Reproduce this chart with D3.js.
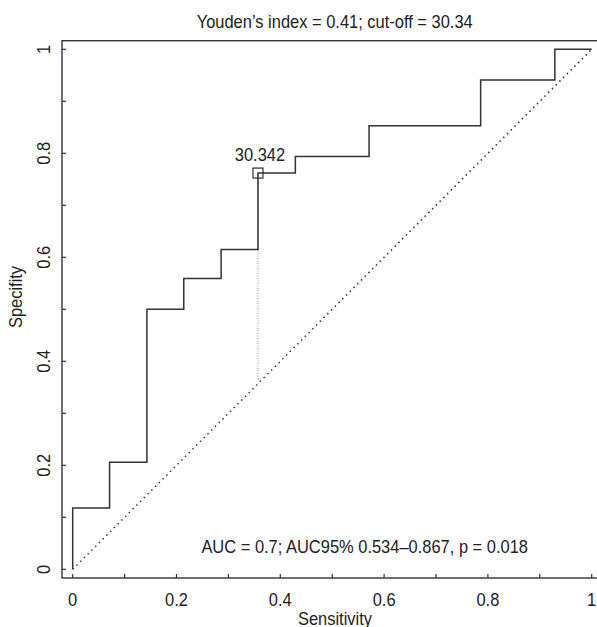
<!DOCTYPE html>
<html>
<head>
<meta charset="utf-8">
<script src="https://cdn.jsdelivr.net/npm/d3@7"></script>
<style>
  body { margin: 0; background: #fff; }
  svg text { font-family: "Liberation Sans", Arial, sans-serif; fill: #222; }
</style>
</head>
<body>
<div id="chart"></div>
<script>
// ROC points (stepped)
const sensitivity = [0, 0, 0.071, 0.143, 0.214, 0.286, 0.357, 0.429, 0.571, 0.786, 0.929, 1];
const specificity = [0, 0.118, 0.206, 0.5, 0.559, 0.615, 0.762, 0.794, 0.853, 0.941, 1, 1];
const cutoff = { sens: 0.357, spec: 0.762, label: "30.342" };
const xTicks = [0, 0.1, 0.2, 0.3, 0.4, 0.5, 0.6, 0.7, 0.8, 0.9, 1];
const yTicks = [0, 0.1, 0.2, 0.3, 0.4, 0.5, 0.6, 0.7, 0.8, 0.9, 1];
const labelTicks = [0, 0.2, 0.4, 0.6, 0.8, 1];
const title = "Youden\u2019s index = 0.41; cut-off = 30.34";
const aucText = "AUC = 0.7; AUC95% 0.534\u20130.867, p = 0.018";

const width = 597;
const height = 627;
const fontSize = 19;
const squeeze = 0.866; // condensed look of the original font
const ink = "#333";

const x = d3.scaleLinear().domain([0, 1]).range([72.7, 591.7]);
const y = d3.scaleLinear().domain([0, 1]).range([569.3, 49.3]);

// frame is a bit wider than the data range
const frame = { x0: x(-0.0206), x1: x(1.04), y0: y(1.0165), y1: y(-0.0167) };

const fmt = (d) => (d === 0 || d === 1 ? String(d) : d3.format(".1f")(d));

const svg = d3
  .select("#chart")
  .append("svg")
  .attr("width", width)
  .attr("height", height);

svg
  .append("rect")
  .attr("x", frame.x0)
  .attr("y", frame.y0)
  .attr("width", frame.x1 - frame.x0)
  .attr("height", frame.y1 - frame.y0)
  .attr("fill", "none")
  .attr("stroke", ink)
  .attr("stroke-width", 1.4);

// ticks (inward)
svg
  .append("g")
  .selectAll("line")
  .data(xTicks)
  .join("line")
  .attr("x1", (d) => x(d))
  .attr("x2", (d) => x(d))
  .attr("y1", frame.y1)
  .attr("y2", frame.y1 - 4)
  .attr("stroke", ink)
  .attr("stroke-width", 1.2);

svg
  .append("g")
  .selectAll("line")
  .data(yTicks)
  .join("line")
  .attr("y1", (d) => y(d))
  .attr("y2", (d) => y(d))
  .attr("x1", frame.x0)
  .attr("x2", frame.x0 + 4)
  .attr("stroke", ink)
  .attr("stroke-width", 1.2);

svg
  .append("g")
  .selectAll("text")
  .data(labelTicks)
  .join("text")
  .attr("x", (d) => x(d))
  .attr("y", 605.5)
  .attr("text-anchor", "middle")
  .attr("font-size", fontSize)
  .text(fmt);

svg
  .append("g")
  .selectAll("text")
  .data(labelTicks)
  .join("text")
  .attr("text-anchor", "middle")
  .attr("font-size", fontSize)
  .attr("transform", (d) => `translate(50,${y(d)})rotate(-90)`)
  .text(fmt);

// axis titles
svg
  .append("text")
  .attr("x", 335)
  .attr("y", 624.5)
  .attr("text-anchor", "middle")
  .attr("font-size", fontSize)
  .text("Sensitivity");

svg
  .append("text")
  .attr("text-anchor", "middle")
  .attr("font-size", fontSize)
  .attr("transform", "translate(21.5,297)rotate(-90)")
  .text("Specifity");

svg
  .append("text")
  .attr("x", 334.7)
  .attr("y", 27.5)
  .attr("text-anchor", "middle")
  .attr("font-size", fontSize)
  .text(title);

// chance diagonal
svg
  .append("line")
  .attr("x1", x(0))
  .attr("y1", y(0))
  .attr("x2", x(1))
  .attr("y2", y(1))
  .attr("stroke", ink)
  .attr("stroke-width", 1.5)
  .attr("stroke-dasharray", "1.5,3.8");

// drop line from cut-off to diagonal
svg
  .append("line")
  .attr("x1", x(cutoff.sens))
  .attr("x2", x(cutoff.sens))
  .attr("y1", y(cutoff.spec))
  .attr("y2", y(cutoff.sens))
  .attr("stroke", "#777")
  .attr("stroke-width", 0.8)
  .attr("stroke-dasharray", "1,1.5");

// ROC curve
const line = d3
  .line()
  .x((i) => x(sensitivity[i]))
  .y((i) => y(specificity[i]))
  .curve(d3.curveStepAfter);

svg
  .append("path")
  .attr("d", line(d3.range(sensitivity.length)))
  .attr("fill", "none")
  .attr("stroke", ink)
  .attr("stroke-width", 1.5);

// cut-off marker
svg
  .append("rect")
  .attr("x", x(cutoff.sens) - 5)
  .attr("y", y(cutoff.spec) - 5)
  .attr("width", 10)
  .attr("height", 10)
  .attr("fill", "none")
  .attr("stroke", "#222")
  .attr("stroke-width", 1.1);

svg
  .append("text")
  .attr("x", x(cutoff.sens) + 2)
  .attr("y", y(cutoff.spec) - 12.5)
  .attr("text-anchor", "middle")
  .attr("font-size", fontSize)
  .text(cutoff.label);

svg
  .append("text")
  .attr("x", x(0.5626))
  .attr("y", 553.3)
  .attr("text-anchor", "middle")
  .attr("font-size", fontSize)
  .text(aucText);

// narrow every text to mimic the condensed face
svg.selectAll("text").each(function () {
  const w = this.getComputedTextLength();
  d3.select(this)
    .attr("textLength", w * squeeze)
    .attr("lengthAdjust", "spacingAndGlyphs");
});
</script>
</body>
</html>
